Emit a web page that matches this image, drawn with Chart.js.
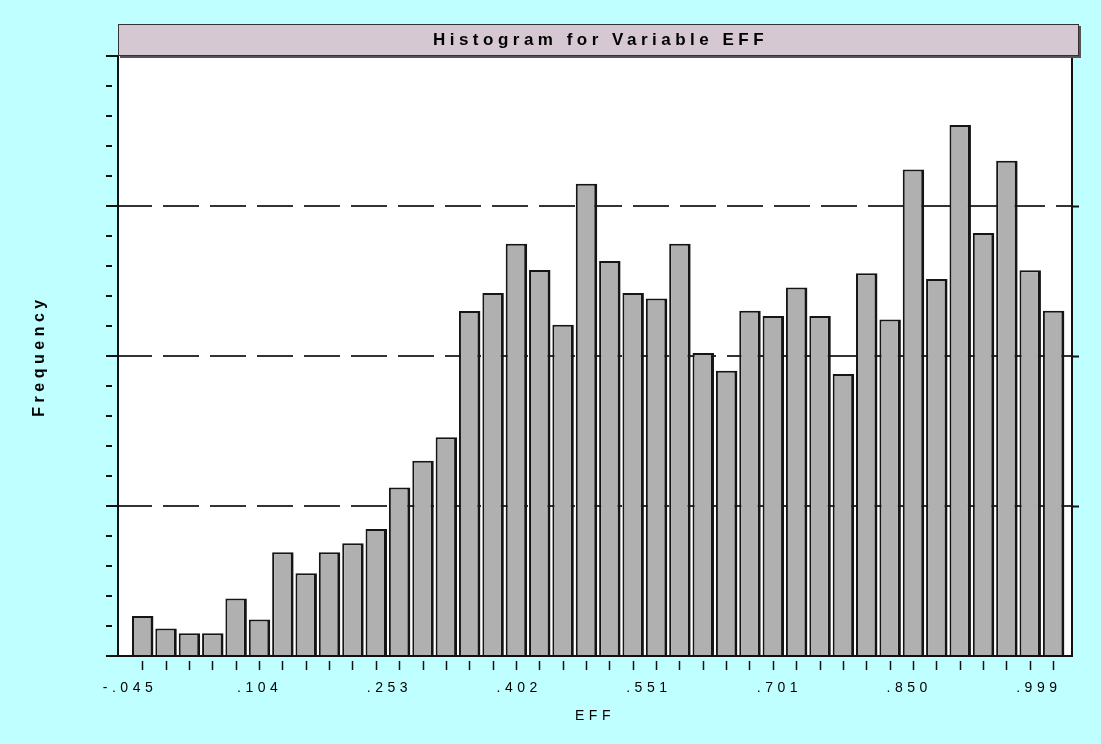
<!DOCTYPE html>
<html>
<head>
<meta charset="utf-8">
<title>Histogram for Variable EFF</title>
<script src="https://cdn.jsdelivr.net/npm/chart.js@4.4.1/dist/chart.umd.min.js"></script>
<style>
  html, body { margin: 0; padding: 0; background: #c0ffff; }
  canvas { display: block; }
</style>
</head>
<body>
<canvas id="hist" width="1101" height="744"></canvas>
<script>
// bin midpoints of EFF
const binMids = [
  -0.0304, -0.0036, 0.0233, 0.0501, 0.0769, 0.1038, 0.1306, 0.1574, 0.1842, 0.2111,
   0.2379,  0.2647, 0.2916, 0.3184, 0.3452, 0.3721, 0.3989, 0.4257, 0.4525, 0.4794,
   0.5062,  0.5330, 0.5599, 0.5867, 0.6135, 0.6404, 0.6672, 0.6940, 0.7208, 0.7477,
   0.7745,  0.8013, 0.8282, 0.8550, 0.8818, 0.9087, 0.9355, 0.9623, 0.9891, 1.0160
];
// bar heights (gridlines sit at 50 / 100 / 150)
const freq = [
   13.3,   9.2,   7.6,   7.6,  19.2,  12.2,  34.6,  27.6,  34.6,  37.6,
   42.3,  56.2,  65.1,  72.9, 115.0, 121.0, 137.4, 128.7, 110.4, 157.4,
  131.7, 121.0, 119.2, 137.4, 101.0,  95.1, 115.1, 113.3, 122.8, 113.3,
   94.0, 127.6, 112.2, 162.2, 125.7, 177.0, 141.0, 165.1, 128.6, 115.1
];
const tickVals   = [-0.045, 0.104, 0.253, 0.402, 0.551, 0.701, 0.850, 0.999];
const tickLabels = ['-.045', '.104', '.253', '.402', '.551', '.701', '.850', '.999'];
const yMajor = [50, 100, 150];

const xMin = -0.0588, xMax = 1.0371;
const FONT = "'Liberation Sans', Arial, sans-serif";
Chart.defaults.font.family = FONT;
Chart.defaults.color = '#000';

// — background, frame, title box —
const decor = {
  id: 'decor',
  beforeDraw(chart) {
    const {ctx, chartArea: a} = chart;
    ctx.save();
    ctx.fillStyle = '#c0ffff';
    ctx.fillRect(0, 0, chart.width, chart.height);
    ctx.fillStyle = '#ffffff';
    ctx.fillRect(a.left, a.top, a.right - a.left, a.bottom - a.top);
    ctx.restore();
    ctx.letterSpacing = '4.5px';   // axis texts are spaced out
  },
  beforeDatasetsDraw(chart) {
    chart.ctx.letterSpacing = '0px';
  },
  afterDatasetsDraw(chart) {
    const {ctx, chartArea: a} = chart;
    ctx.save();
    ctx.strokeStyle = '#111';
    ctx.lineWidth = 2;
    ctx.beginPath();
    ctx.moveTo(a.left, a.top);
    ctx.lineTo(a.left, a.bottom);
    ctx.lineTo(a.right, a.bottom);
    ctx.lineTo(a.right, a.top);
    ctx.stroke();
    ctx.restore();
  },
  afterDraw(chart) {
    const {ctx, chartArea: a} = chart;
    const x0 = a.left, x1 = a.right + 7, y0 = a.top - 32, y1 = a.top;
    ctx.save();
    ctx.fillStyle = '#555';
    ctx.fillRect(x0 + 2, y0 + 2, x1 - x0, y1 - y0);
    ctx.fillStyle = '#d6c8d2';
    ctx.fillRect(x0, y0, x1 - x0, y1 - y0);
    ctx.strokeStyle = '#333';
    ctx.lineWidth = 1;
    ctx.strokeRect(x0 + 0.5, y0 + 0.5, x1 - x0 - 1, y1 - y0 - 1);
    ctx.letterSpacing = '4.5px';
    ctx.fillStyle = '#000';
    ctx.font = 'bold 17px ' + FONT;
    ctx.textAlign = 'center';
    ctx.textBaseline = 'middle';
    ctx.fillText('Histogram for Variable EFF', (x0 + x1) / 2 + 2, (y0 + y1) / 2);
    ctx.restore();
  }
};

new Chart(document.getElementById('hist'), {
  type: 'bar',
  data: {
    datasets: [{
      data: binMids.map((x, i) => ({x: x, y: freq[i]})),
      backgroundColor: '#b0b0b0',
      borderColor: '#151515',
      borderWidth: { top: 2, left: 2, right: 3, bottom: 0 },
      barPercentage: 0.92,
      categoryPercentage: 1
    }]
  },
  options: {
    responsive: false,
    animation: false,
    events: [],
    layout: { padding: { top: 56, left: 0, right: 0, bottom: 0 } },
    plugins: { legend: { display: false }, tooltip: { enabled: false } },
    scales: {
      x: {
        type: 'linear', position: 'bottom', min: xMin, max: xMax, bounds: 'data', offset: false,
        afterBuildTicks: s => { s.ticks = binMids.map(v => ({value: v})); },
        afterFit: s => { s.height = 14; },
        ticks: { display: false },
        grid: { offset: false, drawOnChartArea: false, tickLength: 14, tickColor: '#111', tickWidth: 1.5,
                tickBorderDash: [0, 5, 9, 50] },
        border: { display: false }
      },
      x2: {
        type: 'linear', position: 'bottom', min: xMin, max: xMax, bounds: 'data', offset: false,
        afterBuildTicks: s => { s.ticks = tickVals.map(v => ({value: v})); },
        afterFit: s => { s.height = 74; },
        grid: { display: false, offset: false },
        border: { display: false },
        ticks: { autoSkip: false, maxRotation: 0, padding: 2, font: { size: 14 },
                 callback: (v, i) => tickLabels[i] },
        title: { display: true, text: 'EFF', font: { size: 14 }, padding: { bottom: 19 } }
      },
      y: {
        type: 'linear', position: 'left', min: 0, max: 200,
        afterFit: s => { s.width = 118; },
        ticks: { display: false, stepSize: 10 },
        grid: {
          color: c => yMajor.includes(c.tick.value) ? '#333' : 'rgba(0,0,0,0)',
          lineWidth: 2,
          tickLength: 12,
          tickColor: '#111',
          tickWidth: 2,
          tickBorderDash: c => c.tick.value % 50 === 0 ? [] : [6, 40]
        },
        border: { display: false, dash: [36, 11], dashOffset: 2 },
        title: { display: true, text: 'Frequency', font: { size: 16, weight: 'bold' },
                 padding: { top: 30 } }
      },
      yr: {
        type: 'linear', position: 'right', min: 0, max: 200,
        afterBuildTicks: s => { s.ticks = yMajor.map(v => ({value: v})); },
        afterFit: s => { s.width = 29; },
        ticks: { display: false },
        grid: { drawOnChartArea: false, tickLength: 7, tickColor: '#111', tickWidth: 2 },
        border: { display: false }
      }
    }
  },
  plugins: [decor]
});
</script>
</body>
</html>
